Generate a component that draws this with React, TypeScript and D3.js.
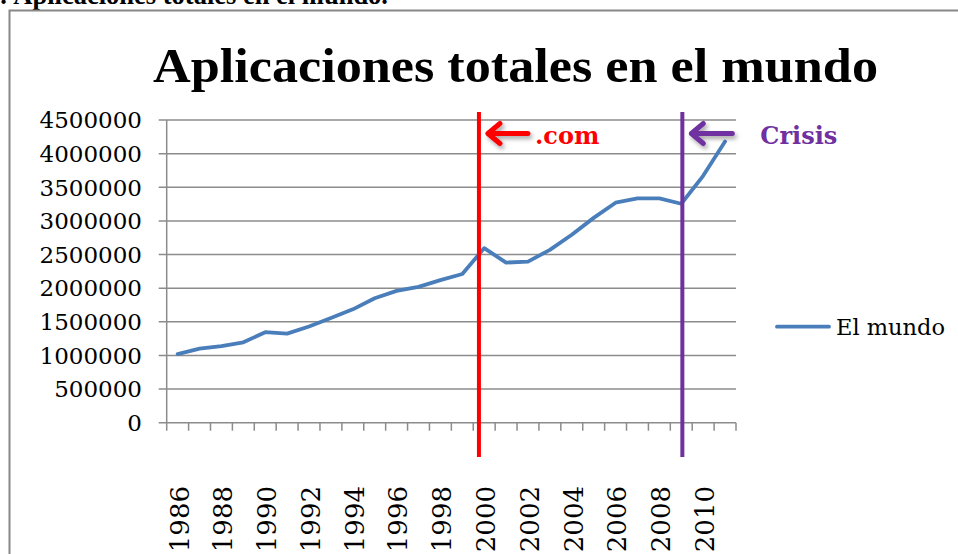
import React from "react";
import * as d3 from "d3";

// Aplicaciones totales en el mundo, 1986-2011
const years = d3.range(1986, 2012);
const mundo = [
  1020000, 1100000, 1140000, 1195000, 1345000, 1325000, 1430000, 1555000,
  1685000, 1850000, 1960000, 2020000, 2120000, 2210000, 2595000, 2380000,
  2395000, 2570000, 2795000, 3045000, 3270000, 3335000, 3335000, 3255000,
  3670000, 4180000,
];
const yTicks = [0, 500000, 1000000, 1500000, 2000000, 2500000, 3000000, 3500000, 4000000, 4500000];
const xLabels = years.filter((y) => y % 2 === 0);

// event markers (fractional year position)
const markers = [
  { year: 1999.76, label: ".com", color: "#FF0000", tail: 40, textDx: 56 },
  { year: 2009.05, label: "Crisis", color: "#7030A0", tail: 41, textDx: 78 },
];

const W = 958;
const H = 554;
const plot = { left: 166.7, right: 736, top: 120, bottom: 422.7 };

export default function App() {
  const x = d3
    .scaleBand<number>()
    .domain(years)
    .range([plot.left, plot.right])
    .padding(0);
  const step = x.step();
  const cx = (yr: number) => plot.left + (yr - years[0] + 0.5) * step;

  const y = d3.scaleLinear().domain([0, 4500000]).range([plot.bottom, plot.top]);

  const line = d3
    .line<number>()
    .x((_, i) => cx(years[i]))
    .y((d) => y(d));

  const serif = "'DejaVu Serif', serif";

  return (
    <svg
      width={W}
      height={H}
      style={{ position: "absolute", left: 0, top: 0, background: "#fff" }}
    >
      <defs>
        <filter id="shadow" x="-30%" y="-60%" width="160%" height="220%">
          <feDropShadow dx="2" dy="3" stdDeviation="2" floodColor="#000" floodOpacity="0.35" />
        </filter>
      </defs>

      {/* caption cut at the top of the page */}
      <text
        x={388}
        y={4}
        textAnchor="end"
        fontFamily="'Liberation Serif', serif"
        fontWeight="bold"
        fontSize={26.5}
        fill="#000"
      >
        1: Aplicaciones totales en el mundo.
      </text>

      {/* chart frame */}
      <rect x={9.5} y={10.5} width={980} height={580} fill="#fff" stroke="#888" strokeWidth={2} />

      {/* title */}
      <text
        x={515.5}
        y={82}
        textAnchor="middle"
        fontFamily="'Liberation Serif', serif"
        fontWeight="bold"
        fontSize={49}
        textLength={725}
        lengthAdjust="spacingAndGlyphs"
        fill="#000"
      >
        Aplicaciones totales en el mundo
      </text>

      {/* gridlines + y ticks */}
      {yTicks.map((t) => (
        <g key={t}>
          <line x1={plot.left - 8} x2={plot.right} y1={y(t)} y2={y(t)} stroke="#8c8c8c" strokeWidth={1.5} />
          <text
            x={142}
            y={y(t)}
            dy="0.36em"
            textAnchor="end"
            fontFamily={serif}
            fontSize={23}
            fill="#000"
          >
            {t}
          </text>
        </g>
      ))}

      {/* axes */}
      <line x1={plot.left} x2={plot.left} y1={plot.top} y2={plot.bottom} stroke="#8c8c8c" strokeWidth={1.5} />
      {[...years, years[years.length - 1] + 1].map((yr, i) => {
        const xx = plot.left + i * step;
        return <line key={yr} x1={xx} x2={xx} y1={plot.bottom} y2={plot.bottom + 8} stroke="#8c8c8c" strokeWidth={1.5} />;
      })}
      {xLabels.map((yr) => (
        <text
          key={yr}
          transform={`translate(${cx(yr) + 1.5},486) rotate(-90)`}
          dy="0.36em"
          textAnchor="end"
          fontFamily={serif}
          fontSize={26}
          fill="#000"
        >
          {yr}
        </text>
      ))}

      {/* series */}
      <path d={line(mundo) || ""} fill="none" stroke="#4A7EBB" strokeWidth={3.8} strokeLinejoin="round" strokeLinecap="round" />

      {/* event markers */}
      {markers.map((m) => {
        const mx = cx(m.year);
        const ay = 133.5;
        const tip = mx + 9;
        return (
          <g key={m.label}>
            <line x1={mx} x2={mx} y1={112} y2={457} stroke={m.color} strokeWidth={4} />
            <path
              d={`M${tip},${ay}L${tip + m.tail},${ay}M${tip + 12},${ay - 10}L${tip},${ay}L${tip + 12},${ay + 10}`}
              fill="none"
              stroke={m.color}
              strokeWidth={5}
              strokeLinecap="round"
              strokeLinejoin="round"
              filter="url(#shadow)"
            />
            <text
              x={mx + m.textDx}
              y={143.5}
              fontFamily={serif}
              fontWeight="bold"
              fontSize={24}
              fill={m.color}
            >
              {m.label}
            </text>
          </g>
        );
      })}

      {/* legend */}
      <line x1={777} x2={829} y1={326.7} y2={326.7} stroke="#4A7EBB" strokeWidth={3.8} strokeLinecap="round" />
      <text x={836} y={335} fontFamily={serif} fontSize={22.5} fill="#000">
        El mundo
      </text>
    </svg>
  );
}
